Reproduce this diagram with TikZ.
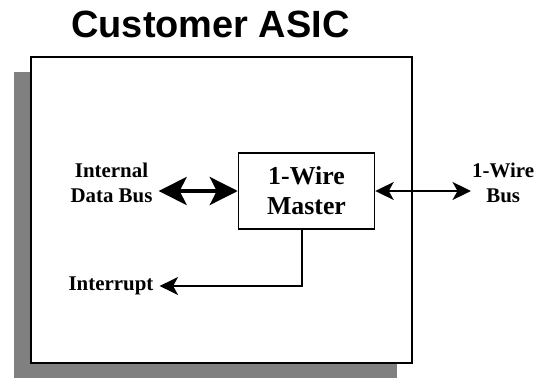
\documentclass[tikz,border=0pt]{standalone}
\usepackage{fontspec}
\setmainfont{Liberation Serif}
\newfontfamily\titlefont{Liberation Sans}
\usetikzlibrary{arrows.meta}

\begin{document}
\begin{tikzpicture}[x=0.02cm,y=-0.02cm,
  lbl/.style={font=\bfseries\fontsize{11.9}{14.2}\selectfont,align=center},
  thinarrow/.style={line width=0.85pt,{Stealth[length=0.37cm,width=0.36cm,inset=0.1cm]}-},
  thinboth/.style={line width=0.85pt,{Stealth[length=0.37cm,width=0.36cm,inset=0.1cm]}-{Stealth[length=0.37cm,width=0.36cm,inset=0.1cm]}},
  fatarrow/.style={line width=2.3pt,{Stealth[length=0.56cm,width=0.56cm,inset=0.14cm]}-{Stealth[length=0.56cm,width=0.56cm,inset=0.14cm]}}]
\useasboundingbox (0,0) rectangle (537,378);
\fill[gray] (14,72) rectangle (397,378);
\draw[line width=1.1pt,fill=white] (31,57) rectangle (412,363);
\node[anchor=base,font=\titlefont\bfseries\fontsize{21.6}{25}\selectfont] (title) at (210.5,38) {Customer ASIC};
\node[draw,line width=0.85pt,minimum width=2.72cm,minimum height=1.52cm,align=center,
  font=\bfseries\fontsize{14.7}{17}\selectfont] (master) at (306.5,191) {1-Wire\\Master};
\node[lbl] (idb) at (111.5,183) {Internal\\Data Bus};
\node[lbl] (intr) at (111,286) {Interrupt};
\coordinate (bus) at (471,191);
\node[lbl,anchor=west] (owb) at (466,182.5) {1-Wire\\Bus};
\draw[fatarrow] (idb.east |- master.west) -- (master.west);
\draw[thinboth] (master.east) -- (bus);
\draw[thinarrow] (intr.east) -| ([xshift=-2.5pt]master.south);
\end{tikzpicture}
\end{document}
